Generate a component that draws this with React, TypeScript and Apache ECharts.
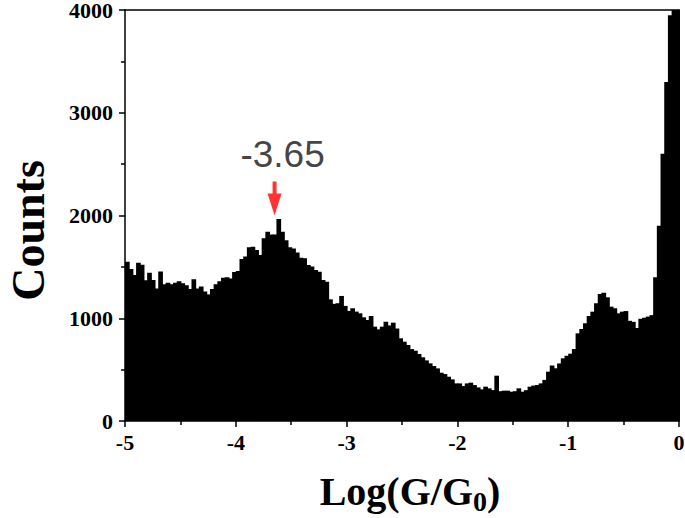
import React, { useEffect, useRef } from "react";
import * as echarts from "echarts";

// Histogram of Log(G/G0): bins of width 1/30 from -5 to 0
const X_MIN = -5;
const X_MAX = 0;
const BIN_WIDTH = 1 / 30;
const COUNTS = [
  1550, 1480, 1420, 1540, 1520, 1370, 1443, 1372, 1290, 1455,
  1330, 1346, 1330, 1346, 1360, 1340, 1320, 1284, 1379, 1290,
  1310, 1260, 1232, 1284, 1330, 1360, 1395, 1400, 1388, 1450,
  1460, 1577, 1600, 1690, 1697, 1664, 1616, 1778, 1843, 1816,
  1816, 1965, 1843, 1760, 1690, 1680, 1640, 1590, 1584, 1519,
  1503, 1470, 1453, 1372, 1356, 1184, 1140, 1146, 1217, 1120,
  1071, 1097, 1065, 1048, 1009, 983, 1022, 918, 892, 918,
  966, 930, 957, 900, 805, 772, 740, 700, 684, 652,
  620, 590, 561, 535, 512, 470, 457, 431, 405, 366,
  366, 340, 366, 373, 350, 327, 308, 334, 318, 301,
  441, 290, 295, 295, 285, 290, 318, 285, 300, 334,
  345, 350, 366, 400, 480, 540, 513, 560, 610, 635,
  655, 700, 853, 895, 951, 1022, 1064, 1146, 1236, 1249,
  1204, 1113, 1097, 1048, 1064, 1070, 975, 965, 905, 995,
  1005, 1016, 1030, 1400, 1900, 2600, 3300, 3950, 4000, 4000,
];
const Y_MIN = 0;
const Y_MAX = 4000;
const Y_INTERVAL = 1000;
const X_INTERVAL = 1;
const PEAK_X = -3.65;
const PEAK_ARROW_TIP = 2000;
const PEAK_LABEL = "-3.65";

const SERIF = '"Times New Roman", "Liberation Serif", serif';
const SANS = 'Arial, "Liberation Sans", sans-serif';

export default function App() {
  const ref = useRef<HTMLDivElement>(null);
  useEffect(() => {
    if (!ref.current) return;
    const chart = echarts.init(ref.current, null, { renderer: "svg" });
    const data = COUNTS.map((v, i) => [X_MIN + i * BIN_WIDTH, v]);
    const axisLine = { show: true, onZero: false, lineStyle: { color: "#000", width: 1.5 } };
    const tickStyle = { color: "#000", width: 1.5 };
    chart.setOption({
      animation: false,
      backgroundColor: "#fff",
      grid: {
        left: 125,
        right: 6,
        top: 10,
        bottom: 97,
        containLabel: false,
        outerBoundsMode: "none",
      },
      xAxis: [
        {
          type: "value",
          min: X_MIN,
          max: X_MAX,
          interval: X_INTERVAL,
          position: "bottom",
          z: 10,
          axisLine,
          axisTick: { show: true, length: 6, lineStyle: tickStyle },
          minorTick: { show: true, splitNumber: 2, length: 4, lineStyle: tickStyle },
          splitLine: { show: false },
          axisLabel: {
            color: "#000",
            fontFamily: SERIF,
            fontWeight: "bold",
            fontSize: 22,
            margin: 10,
            formatter: (v: number) => String(v),
          },
          name: "Log(G/G{sub|0})",
          nameLocation: "middle",
          nameGap: 46,
          nameTextStyle: {
            color: "#000",
            fontFamily: SERIF,
            fontWeight: "bold",
            fontSize: 40,
            padding: [0, 0, 0, 16],
            rich: {
              sub: {
                color: "#000",
                fontFamily: SERIF,
                fontWeight: "bold",
                fontSize: 28,
                padding: [20, 0, 0, 0],
              },
            },
          },
        },
        {
          type: "value",
          min: X_MIN,
          max: X_MAX,
          position: "top",
          z: 10,
          axisLine,
          axisTick: { show: false },
          axisLabel: { show: false },
          splitLine: { show: false },
        },
      ],
      yAxis: [
        {
          type: "value",
          min: Y_MIN,
          max: Y_MAX,
          interval: Y_INTERVAL,
          position: "left",
          z: 10,
          axisLine,
          axisTick: { show: true, length: 6, lineStyle: tickStyle },
          minorTick: { show: true, splitNumber: 2, length: 4, lineStyle: tickStyle },
          splitLine: { show: false },
          axisLabel: {
            color: "#000",
            fontFamily: SERIF,
            fontWeight: "bold",
            fontSize: 22,
            lineHeight: 17,
            margin: 12,
            formatter: (v: number) => String(v),
          },
          name: "Counts",
          nameLocation: "middle",
          nameGap: 74,
          nameTextStyle: {
            color: "#000",
            fontFamily: SERIF,
            fontWeight: "bold",
            fontSize: 46,
            padding: [0, 30, 0, 0],
          },
        },
        {
          type: "value",
          min: Y_MIN,
          max: Y_MAX,
          position: "right",
          z: 10,
          axisLine,
          axisTick: { show: false },
          axisLabel: { show: false },
          splitLine: { show: false },
        },
      ],
      series: [
        {
          type: "custom",
          xAxisIndex: 0,
          yAxisIndex: 0,
          data,
          renderItem: (params: any, api: any) => {
            const x0 = api.value(0);
            const v = api.value(1);
            const pTop = api.coord([x0, v]);
            const pBase = api.coord([x0 + BIN_WIDTH, 0]);
            return {
              type: "rect",
              shape: {
                x: pTop[0],
                y: pTop[1],
                width: pBase[0] - pTop[0] + 1,
                height: pBase[1] - pTop[1],
              },
              style: { fill: "#000", stroke: null },
            };
          },
          z: 2,
        },
        {
          type: "scatter",
          xAxisIndex: 0,
          yAxisIndex: 0,
          data: [[PEAK_X, PEAK_ARROW_TIP]],
          symbol: "path://M5,0L9,0L9,12L14,12L7,34L0,12L5,12Z",
          symbolSize: [14, 34],
          symbolOffset: [0, "-50%"],
          itemStyle: { color: "#ff0000" },
          label: {
            show: true,
            position: "top",
            distance: 9,
            offset: [8, 0],
            formatter: PEAK_LABEL,
            color: "#111",
            fontFamily: SANS,
            fontSize: 37,
          },
          z: 5,
        },
      ],
    });
    return () => chart.dispose();
  }, []);
  return (
    <div
      ref={ref}
      style={{ position: "fixed", left: 0, top: 0, width: 685, height: 518 }}
    />
  );
}
